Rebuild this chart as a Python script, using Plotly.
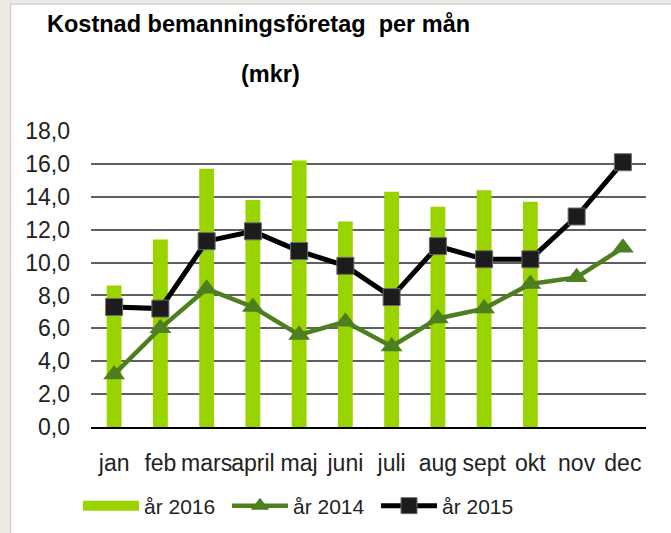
import plotly.graph_objects as go

months = ["jan", "feb", "mars", "april", "maj", "juni", "juli", "aug", "sept", "okt", "nov", "dec"]
y2016 = [8.6, 11.4, 15.7, 13.8, 16.2, 12.5, 14.3, 13.4, 14.4, 13.7, None, None]
y2014 = [3.2, 6.0, 8.4, 7.3, 5.6, 6.4, 4.9, 6.6, 7.2, 8.7, 9.1, 10.9]
y2015 = [7.3, 7.2, 11.3, 11.9, 10.7, 9.8, 7.9, 11.0, 10.2, 10.2, 12.8, 16.1]
yticks = [0, 2, 4, 6, 8, 10, 12, 14, 16, 18]

title1 = "Kostnad bemanningsföretag  per mån"
title2 = "(mkr)"

W, H = 671, 533
L, R, T, B = 91, 25, 131, 106
PW, PH = W - L - R, H - T - B

def px(x):
    return (x - L) / PW

def py(y):
    return (H - B - y) / PH

FONT = "Liberation Sans, Arial, sans-serif"
GREEN_BAR = "#99D400"
GREEN_LINE = "#4E7F1F"
BLACK = "#000000"

fig = go.Figure()
fig.add_trace(go.Bar(x=months, y=y2016, name="år 2016", marker=dict(color=GREEN_BAR, line=dict(width=0)),
                     width=0.32, showlegend=False))
# legend proxy for the bar series (wide swatch)
fig.add_trace(go.Scatter(x=[None], y=[None], mode="lines", name="år 2016",
                         line=dict(color=GREEN_BAR, width=16)))
fig.add_trace(go.Scatter(x=months, y=y2014, name="år 2014", mode="lines+markers",
                         line=dict(color=GREEN_LINE, width=4.5),
                         marker=dict(symbol="triangle-up", size=19, color=GREEN_LINE,
                                     line=dict(color=GREEN_LINE, width=0))))
fig.add_trace(go.Scatter(x=months, y=y2015, name="år 2015", mode="lines+markers",
                         line=dict(color=BLACK, width=5),
                         marker=dict(symbol="square", size=17, color="#1c1c1c",
                                     line=dict(color="#6a6a6a", width=1))))

shapes = [
    dict(type="rect", xref="paper", yref="paper", x0=px(0), x1=px(10), y0=py(H), y1=py(0),
         fillcolor="#EEEAE4", line=dict(width=0), layer="above"),
    dict(type="rect", xref="paper", yref="paper", x0=px(0), x1=px(W), y0=py(3.5), y1=py(0),
         fillcolor="#EEEAE4", line=dict(width=0), layer="above"),
    dict(type="line", xref="paper", yref="paper", x0=px(10.5), x1=px(10.5), y0=py(H), y1=py(3.5),
         line=dict(color="#D2D2D2", width=1.5), layer="above"),
    dict(type="line", xref="paper", yref="paper", x0=px(10.5), x1=px(W), y0=py(4), y1=py(4),
         line=dict(color="#D2D2D2", width=1.5), layer="above"),
]

annotations = [
    dict(text="<b>" + title1.replace("  ", " &nbsp;") + "</b>", xref="paper", yref="paper",
         x=px(258), y=py(24), xanchor="center", yanchor="middle", showarrow=False,
         font=dict(family=FONT, size=23.5, color="#000")),
    dict(text="<b>" + title2 + "</b>", xref="paper", yref="paper",
         x=px(270), y=py(74), xanchor="center", yanchor="middle", showarrow=False,
         font=dict(family=FONT, size=23.5, color="#000")),
]

fig.update_layout(
    width=W, height=H,
    margin=dict(l=L, r=R, t=T, b=B, pad=0, autoexpand=False),
    paper_bgcolor="white", plot_bgcolor="white",
    separators=", ",
    font=dict(family=FONT, size=24, color="#222"),
    shapes=shapes,
    annotations=annotations,
    legend=dict(orientation="h", xref="container", yref="container",
                x=78 / W, y=1 - 506 / H, xanchor="left", yanchor="middle",
                font=dict(family=FONT, size=21, color="#222"), itemwidth=56,
                entrywidth=78, entrywidthmode="pixels",
                traceorder="normal", bgcolor="rgba(0,0,0,0)"),
    xaxis=dict(type="category", categoryorder="array", categoryarray=months,
               range=[-0.5, 11.5], showgrid=False, showline=True, linecolor="#000", linewidth=2,
               ticks="", tickangle=0, ticklabelstandoff=14, automargin=False,
               tickfont=dict(family=FONT, size=23, color="#222"), fixedrange=True),
    yaxis=dict(range=[0, 18], tickvals=yticks, tickformat=".1f", showgrid=True,
               gridcolor="#606060", gridwidth=1.5, zeroline=False, showline=False,
               ticks="", ticklabelstandoff=20, automargin=False,
               tickfont=dict(family=FONT, size=23, color="#222"), fixedrange=True),
)

fig.write_html("out.html", config={"displayModeBar": False},
               post_script="document.body.style.margin='0';document.body.style.overflow='hidden';")
